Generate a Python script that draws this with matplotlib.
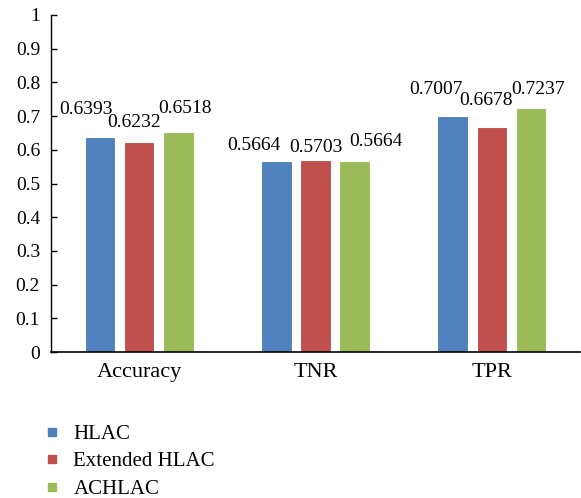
import matplotlib.pyplot as plt
from matplotlib.lines import Line2D
import numpy as np

# data
categories = ['Accuracy', 'TNR', 'TPR']
series = ['HLAC', 'Extended HLAC', 'ACHLAC']
hlac = [0.6393, 0.5664, 0.7007]
ext_hlac = [0.6232, 0.5703, 0.6678]
achlac = [0.6518, 0.5664, 0.7237]
values = [hlac, ext_hlac, achlac]
colors = ['#4F81BD', '#C0504D', '#9BBB59']

# label nudges (points) so the numbers do not collide, like the original
label_dx = [[-10, -16, -12], [-4, 0, -4], [5, 15, 5]]
label_dy = [[13, 5, 13], [8, 3, 13], [11, 8, 7]]

plt.rcParams['font.family'] = ['Liberation Serif', 'DejaVu Serif']

fig = plt.figure(figsize=(5.81, 4.98), dpi=100)
ax = fig.add_axes([0.088, 0.293, 0.910, 0.677])

x = np.arange(len(categories))
width = 0.172
step = 0.222

for i, (name, vals) in enumerate(zip(series, values)):
    pos = x + (i - 1) * step
    ax.bar(pos, vals, width, color=colors[i], edgecolor='white', linewidth=0.8, label=name)
    for j, v in enumerate(vals):
        ax.annotate(f'{v:.4f}', (pos[j], v), xytext=(label_dx[i][j], label_dy[i][j]),
                    textcoords='offset points', ha='center', va='bottom', fontsize=14)

ax.set_xlim(-0.5, 2.5)
ax.set_ylim(0, 1)
ax.set_yticks(np.arange(0, 1.01, 0.1))
ax.set_yticklabels(['0'] + [f'{t:.1f}' for t in np.arange(0.1, 0.95, 0.1)] + ['1'])
ax.set_xticks(x)
ax.set_xticklabels(categories)
ax.tick_params(axis='y', direction='in', length=4, width=1, labelsize=14, pad=8)
ax.tick_params(axis='x', length=0, labelsize=16, pad=8)
ax.spines['top'].set_visible(False)
ax.spines['right'].set_visible(False)
ax.spines['left'].set_linewidth(1)
ax.spines['bottom'].set_linewidth(1.2)

handles = [Line2D([], [], marker='s', linestyle='none', markersize=5.5,
                  markerfacecolor=c, markeredgecolor=c) for c in colors]
fig.legend(handles, series, loc='upper left', bbox_to_anchor=(0.078, 0.148),
           frameon=False, fontsize=15, handlelength=0.6, handletextpad=0.75,
           labelspacing=0.38, borderpad=0, borderaxespad=0)

fig.savefig('out.png', dpi=100)
